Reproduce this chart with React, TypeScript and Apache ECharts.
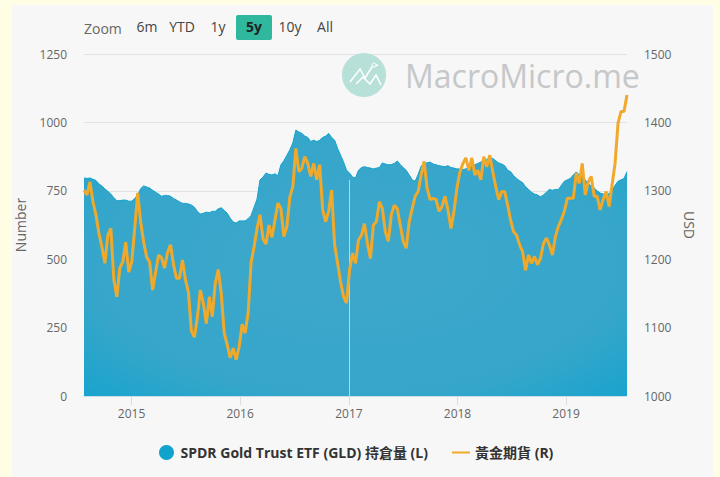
import React, { useEffect, useRef } from "react";
import * as echarts from "echarts";

const startDate = Date.UTC(2014, 6, 25);
const stepDays = 10.033;
const yearLabels = [2015, 2016, 2017, 2018, 2019];
const zoomLabels = [
  { text: "6m", x: 147 },
  { text: "YTD", x: 182 },
  { text: "1y", x: 218 },
  { text: "10y", x: 290 },
  { text: "All", x: 325 },
];

const holdings = [
  797, 795, 797, 792, 788, 775, 768, 757, 748, 738,
  725, 714, 714, 716, 716, 712, 712, 722, 735, 758,
  768, 764, 760, 752, 745, 738, 730, 733, 733, 730,
  722, 716, 710, 704, 704, 702, 698, 690, 675, 665,
  668, 672, 670, 675, 675, 684, 688, 678, 668, 650,
  636, 632, 640, 640, 640, 648, 660, 690, 720, 790,
  800, 815, 810, 808, 812, 805, 845, 860, 880, 900,
  925, 972, 965, 960, 950, 945, 930, 935, 930, 935,
  945, 950, 960, 945, 935, 905, 880, 855, 825, 815,
  800, 797, 825, 835, 838, 835, 833, 830, 833, 835,
  852, 848, 845, 846, 850, 859, 846, 835, 825, 808,
  790, 785, 810, 840, 852, 852, 855, 848, 845, 842,
  840, 838, 842, 835, 833, 830, 830, 828, 830, 835,
  840, 845, 850, 855, 860, 865, 870, 868, 860, 852,
  848, 842, 825, 820, 805, 795, 787, 780, 765, 755,
  745, 738, 735, 728, 735, 745, 755, 752, 755, 755,
  770, 785, 790, 795, 808, 819, 808, 800, 790, 775,
  768, 760, 750, 742, 738, 735, 740, 752, 770, 785,
  790, 795, 820,
];

const gold = [
  1301, 1294, 1313, 1284, 1265, 1238, 1218, 1194, 1235, 1245,
  1170, 1145, 1187, 1196, 1225, 1181, 1196, 1245, 1297, 1254,
  1225, 1203, 1196, 1155, 1181, 1206, 1202, 1187, 1210, 1221,
  1192, 1172, 1172, 1199, 1170, 1152, 1095, 1086, 1115, 1155,
  1136, 1106, 1145, 1116, 1165, 1185, 1150, 1092, 1075, 1056,
  1070, 1053, 1072, 1105, 1092, 1121, 1195, 1218, 1245, 1265,
  1230, 1222, 1250, 1232, 1257, 1282, 1274, 1233, 1248, 1291,
  1306, 1362, 1328, 1333, 1350, 1340, 1321, 1340, 1316, 1338,
  1272, 1255, 1270, 1301, 1221, 1194, 1167, 1145, 1136, 1184,
  1209, 1194, 1228, 1235, 1252, 1223, 1201, 1250, 1255, 1284,
  1274, 1240, 1226, 1265, 1279, 1274, 1250, 1226, 1216, 1255,
  1274, 1292, 1299, 1323, 1343, 1304, 1287, 1289, 1287, 1270,
  1277, 1292, 1272, 1245, 1270, 1304, 1328, 1340, 1348, 1330,
  1348, 1323, 1330, 1316, 1350, 1335, 1352, 1328, 1306, 1287,
  1299, 1299, 1279, 1257, 1240, 1235, 1221, 1211, 1184, 1206,
  1194, 1204, 1192, 1201, 1223, 1231, 1221, 1206, 1233, 1248,
  1258, 1270, 1289, 1289, 1289, 1326, 1311, 1340, 1294, 1313,
  1321, 1292, 1292, 1272, 1287, 1299, 1277, 1309, 1340, 1399,
  1416, 1416, 1440,
];

const dateAt = (i: number) => startDate + i * stepDays * 86400000;
const yearTicks = yearLabels.map((y) => Date.UTC(y, 0, 1));
const font = '"Open Sans", "Noto Sans CJK TC", sans-serif';

export default function App() {
  const ref = useRef<HTMLDivElement>(null);
  useEffect(() => {
    const chart = echarts.init(ref.current!, undefined, { renderer: "svg" });
    chart.setOption({
      animation: false,
      backgroundColor: "#fffde4",
      textStyle: { fontFamily: font },
      grid: { left: 84, right: 93, top: 54, bottom: 81 },
      legend: {
        left: 154,
        top: 440,
        itemWidth: 18,
        itemHeight: 15,
        itemGap: 24,
        textStyle: { fontFamily: font, fontSize: 14, fontWeight: "bold", color: "#333" },
        data: [
          { name: "SPDR Gold Trust ETF (GLD) 持倉量 (L)", icon: "circle" },
          { name: "黃金期貨 (R)", icon: "path://M0 0H18V2H0Z" },
        ],
      },
      xAxis: {
        type: "value",
        min: dateAt(0),
        max: dateAt(182),
        axisLine: { show: true, onZero: false, lineStyle: { color: "#c9dfe8" } },
        axisTick: { show: true, length: 9, lineStyle: { color: "#dcdcdc" }, customValues: yearTicks },
        splitLine: { show: false },
        axisLabel: {
          customValues: yearTicks,
          color: "#666",
          fontSize: 12,
          margin: 11,
          formatter: (v: number) => String(new Date(v).getUTCFullYear()),
        },
      },
      yAxis: [
        {
          type: "value",
          min: 0,
          max: 1250,
          interval: 250,
          name: "Number",
          nameLocation: "middle",
          nameRotate: 90,
          nameGap: 57,
          nameTextStyle: { color: "#666", fontSize: 14 },
          axisLabel: { color: "#666", fontSize: 12, margin: 17, formatter: (v: number) => String(v) },
          axisLine: { show: false },
          axisTick: { show: false },
          splitLine: { lineStyle: { color: "#e2e2e2" } },
        },
        {
          type: "value",
          min: 1000,
          max: 1500,
          interval: 100,
          position: "right",
          name: "USD",
          nameLocation: "middle",
          nameRotate: -90,
          nameGap: 56,
          nameTextStyle: { color: "#666", fontSize: 14 },
          axisLabel: { color: "#666", fontSize: 12, margin: 17, formatter: (v: number) => String(v) },
          axisLine: { show: false },
          axisTick: { show: false },
          splitLine: { show: false },
        },
      ],
      series: [
        {
          name: "SPDR Gold Trust ETF (GLD) 持倉量 (L)",
          type: "line",
          yAxisIndex: 0,
          symbol: "none",
          color: "#12a3cd",
          lineStyle: { width: 1, color: "#12a3cd" },
          areaStyle: {
            opacity: 1,
            color: {
              type: "radial",
              x: 0.5,
              y: 0.5,
              r: 0.78,
              colorStops: [
                { offset: 0, color: "#3ea7cb" },
                { offset: 0.65, color: "#35a6ca" },
                { offset: 1, color: "#0fa3cf" },
              ],
            },
          },
          data: holdings.map((v, i) => [dateAt(i), v]),
          markLine: {
            silent: true,
            symbol: "none",
            label: { show: false },
            lineStyle: { color: "#a8dcec", width: 1, type: "solid" },
            data: [[{ coord: [yearTicks[2], 0] }, { coord: [yearTicks[2], 790] }]],
          },
        },
        {
          name: "黃金期貨 (R)",
          type: "line",
          yAxisIndex: 1,
          symbol: "none",
          color: "#f0a92b",
          lineStyle: { width: 3, color: "#f0a92b" },
          z: 5,
          data: gold.map((v, i) => [dateAt(i), v]),
        },
      ],
      graphic: [
        { type: "rect", z: -10, silent: true, shape: { x: 12, y: 5, width: 701, height: 472 }, style: { fill: "#f7f7f7" } },
        { type: "text", x: 84, y: 28, silent: true, style: { text: "Zoom", fill: "#666", font: `14px ${font}`, textVerticalAlign: "middle" } },
        ...zoomLabels.map((z) => ({
          type: "text",
          x: z.x,
          y: 26,
          silent: true,
          style: { text: z.text, fill: "#444", font: `14px ${font}`, textAlign: "center", textVerticalAlign: "middle" },
        })),
        { type: "rect", silent: true, shape: { x: 236, y: 15, width: 36, height: 25, r: 2 }, style: { fill: "#2fb89e" } },
        { type: "text", x: 254, y: 26, silent: true, style: { text: "5y", fill: "#222", font: `bold 14px ${font}`, textAlign: "center", textVerticalAlign: "middle" } },
        { type: "circle", z: 1, silent: true, shape: { cx: 364, cy: 75, r: 22 }, style: { fill: "#b6e0d8" } },
        { type: "polyline", z: 1, silent: true, shape: { points: [[350, 82], [360, 69], [365, 78], [372, 67], [378, 65]] }, style: { stroke: "#fff", lineWidth: 1.5, fill: "none" } },
        { type: "polyline", z: 1, silent: true, shape: { points: [[356, 84], [363, 77], [370, 84], [376, 75], [381, 85]] }, style: { stroke: "#fff", lineWidth: 1.5, fill: "none" } },
        { type: "circle", z: 1, silent: true, shape: { cx: 374, cy: 65, r: 2 }, style: { fill: "#b6e0d8", stroke: "#fff", lineWidth: 1 } },
        { type: "text", z: 1, x: 405, y: 75, silent: true, style: { text: "MacroMicro.me", fill: "#c5c7c9", font: `32px ${font}`, textVerticalAlign: "middle" } },
      ],
    });
    return () => chart.dispose();
  }, []);
  return (
    <div style={{ position: "absolute", left: 0, top: 0, width: 720, height: 477 }}>
      <div ref={ref} style={{ width: 720, height: 477 }} />
    </div>
  );
}
